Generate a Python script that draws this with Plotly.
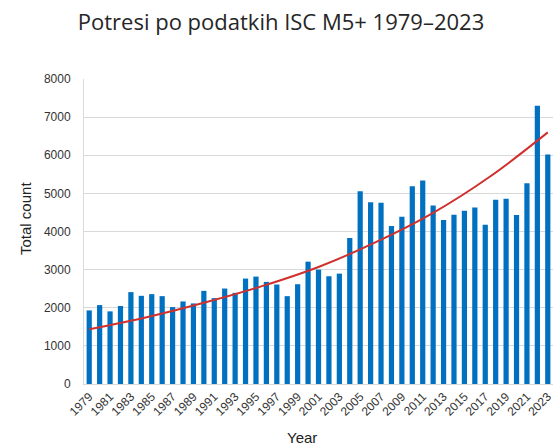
import plotly.graph_objects as go

years = list(range(1979, 2024))
counts = [1930, 2070, 1905, 2045, 2410, 2313, 2357, 2304, 2017, 2165,
          2113, 2443, 2252, 2504, 2391, 2765, 2817, 2678, 2609, 2304,
          2617, 3209, 3000, 2826, 2895, 3828, 5057, 4769, 4752, 4142,
          4386, 5188, 5336, 4682, 4299, 4439, 4543, 4630, 4176, 4830,
          4856, 4430, 5266, 7296, 6017]
# exponential trendline, values
trend_years = [1979, 1984.5, 1990, 1995.5, 2001, 2006.5, 2012, 2017.5, 2023]
trend_vals = [1435, 1750, 2130, 2560, 3070, 3720, 4490, 5450, 6600]
tick_years = list(range(1979, 2024, 2))
y_ticks = list(range(0, 8001, 1000))

W, H = 554, 446
L, R, T, B = 84, 1, 79, 62
PW, PH = W - L - R, H - T - B

fig = go.Figure()
fig.add_trace(go.Bar(x=years, y=counts, marker=dict(color="#0070C0", line=dict(width=0)),
                     width=0.5, showlegend=False))
fig.add_trace(go.Scatter(x=trend_years, y=trend_vals, mode="lines",
                         line=dict(color="#D0312D", width=2, shape="spline", smoothing=1.0),
                         showlegend=False, hoverinfo="skip"))

fig.update_layout(
    width=W, height=H,
    margin=dict(l=L, r=R, t=T, b=B),
    paper_bgcolor="white", plot_bgcolor="white",
    title=dict(text="Potresi po podatkih ISC M5+ 1979–2023", x=281 / W, xanchor="center",
               y=1 - 22 / H, yanchor="middle",
               font=dict(family="Open Sans", size=22, color="#262626")),
    font=dict(family="Liberation Sans, Arial", size=12, color="#333333"),
    xaxis=dict(range=[1978.5, 2023.5], tickmode="array", tickvals=tick_years,
               ticktext=[str(t) for t in tick_years], tickangle=-45, automargin=False,
               ticklabeloverflow="allow",
               showgrid=False, showline=True, linecolor="#d9d9d9", linewidth=1,
               ticks="", tickfont=dict(size=12, color="#333333")),
    yaxis=dict(range=[0, 8000], tickmode="array", tickvals=y_ticks, automargin=False,
               showgrid=True, gridcolor="#d9d9d9", gridwidth=1,
               showline=True, linecolor="#d9d9d9", zeroline=False, ticks="",
               ticklabelstandoff=10, tickfont=dict(size=12, color="#333333")),
    annotations=[
        dict(text="Year", xref="paper", yref="paper", x=(302 - L) / PW, y=-(437 - (T + PH)) / PH,
             xanchor="center", yanchor="middle", showarrow=False,
             font=dict(family="Liberation Sans, Arial", size=15, color="#222222")),
        dict(text="Total count", xref="paper", yref="paper", x=-(L - 25) / PW,
             y=(T + PH - 219) / PH, textangle=-90,
             xanchor="center", yanchor="middle", showarrow=False,
             font=dict(family="Liberation Sans, Arial", size=15, color="#222222")),
    ],
)

# remove the browser's default 8px page margin so the figure fills the window exactly
fig.write_html("out.html", config={"displayModeBar": False},
               post_script="document.body.style.margin='0';document.body.style.overflow='hidden';")
